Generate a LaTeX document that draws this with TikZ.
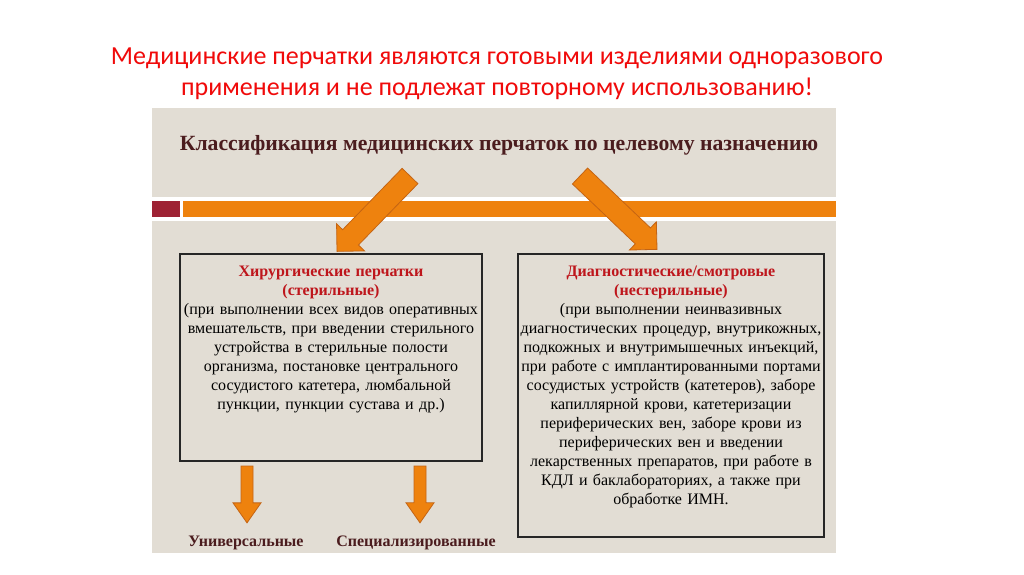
\documentclass[tikz,border=0pt]{standalone}
\usepackage{fontspec}
\setmainfont{Liberation Serif}
\newfontfamily\calibri{Carlito}
\usetikzlibrary{positioning,calc}
\definecolor{beige}{RGB}{226,221,212}
\definecolor{barorange}{RGB}{238,130,14}
\definecolor{arrowedge}{RGB}{196,100,20}
\definecolor{barred}{RGB}{158,34,52}
\definecolor{maroon}{RGB}{75,28,30}
\definecolor{boxred}{RGB}{190,22,28}
\definecolor{alarm}{RGB}{240,10,10}
% tail, tip, half shaft, half head, head length
\newcommand\blockarrow[5]{%
  \coordinate (bah) at ($(#2)!#5!(#1)$);
  \filldraw[fill=barorange, draw=arrowedge, line width=0.8pt, line join=miter]
    ($(#1)!#3!90:(#2)$) -- ($(bah)!#3!90:(#2)$) -- ($(bah)!#4!90:(#2)$) -- (#2)
    -- ($(bah)!#4!-90:(#2)$) -- ($(bah)!#3!-90:(#2)$) -- ($(#1)!#3!-90:(#2)$) -- cycle;
}
\begin{document}
\begin{tikzpicture}[x=1pt,y=-1pt,
  glovebox/.style={draw=black!85, line width=1.3pt, inner sep=0pt},
  boxtext/.style={inner sep=0pt, text width=330pt, align=center, font=\fontsize{16}{19}\selectfont},
  kind/.style={inner sep=0pt, text=maroon, font=\bfseries\fontsize{16}{19}\selectfont}]
  \useasboundingbox (0,0) rectangle (1024,574);
  \fill[white] (0,0) rectangle (1024,574);
  \node[font=\calibri\fontsize{26}{31}\selectfont, text=alarm, align=center] (warn) at (497,74)
    {Медицинские перчатки являются готовыми изделиями одноразового\\применения и не подлежат повторному использованию!};
  \fill[beige] (152,108) rectangle (836,553);
  \fill[white] (152,197) rectangle (836,221);
  \fill[barred] (152,201) rectangle (180,217);
  \fill[barorange] (183,201) rectangle (836,217);
  \node[font=\bfseries\fontsize{21.7}{25}\selectfont, text=maroon] (klass) at (499,145)
    {Классификация медицинских перчаток по целевому назначению};
  \node[glovebox, minimum width=302pt, minimum height=207pt] (hir) at (331,357.5) {};
  \node[glovebox, minimum width=306pt, minimum height=283pt] (diag) at (671,395.5) {};
  \node[boxtext, below=12pt of hir.north] (hirtext)
    {{\color{boxred}\bfseries Хирургические перчатки}\\{\color{boxred}\bfseries (стерильные)}\\
     (при выполнении всех видов оперативных\\вмешательств, при введении стерильного\\
     устройства в стерильные полости\\организма, постановке центрального\\
     сосудистого катетера, люмбальной\\пункции, пункции сустава и др.)};
  \node[boxtext, below=12pt of diag.north] (diagtext)
    {{\color{boxred}\bfseries Диагностические/смотровые}\\{\color{boxred}\bfseries (нестерильные)}\\
     (при выполнении неинвазивных\\диагностических процедур, внутрикожных,\\
     подкожных и внутримышечных инъекций,\\при работе с имплантированными портами\\
     сосудистых устройств (катетеров), заборе\\капиллярной крови, катетеризации\\
     периферических вен, заборе крови из\\периферических вен и введении\\
     лекарственных препаратов, при работе в\\КДЛ и баклабораториях, а также при\\
     обработке ИМН.};
  \node[kind] (univ) at (246,543) {Универсальные};
  \node[kind] (spec) at (416,543) {Специализированные};
  \coordinate (kl1) at (410,176);
  \coordinate (kl2) at (580,176);
  \coordinate (hirtip) at ([xshift=6pt,yshift=2pt]hir.north);
  \coordinate (diagtip) at ([xshift=-14pt,yshift=4pt]diag.north);
  \coordinate (univtail) at (247,466);
  \coordinate (spectail) at (420,466);
  \coordinate (univtip) at ([xshift=1pt,yshift=13pt]univ.north);
  \coordinate (spectip) at ([xshift=4pt,yshift=13pt]spec.north);
  \blockarrow{kl1}{hirtip}{11pt}{19.5pt}{19.5pt}
  \blockarrow{kl2}{diagtip}{11pt}{19.5pt}{19.5pt}
  \blockarrow{univtail}{univtip}{6pt}{14pt}{20pt}
  \blockarrow{spectail}{spectip}{6pt}{14pt}{20pt}
\end{tikzpicture}
\end{document}
